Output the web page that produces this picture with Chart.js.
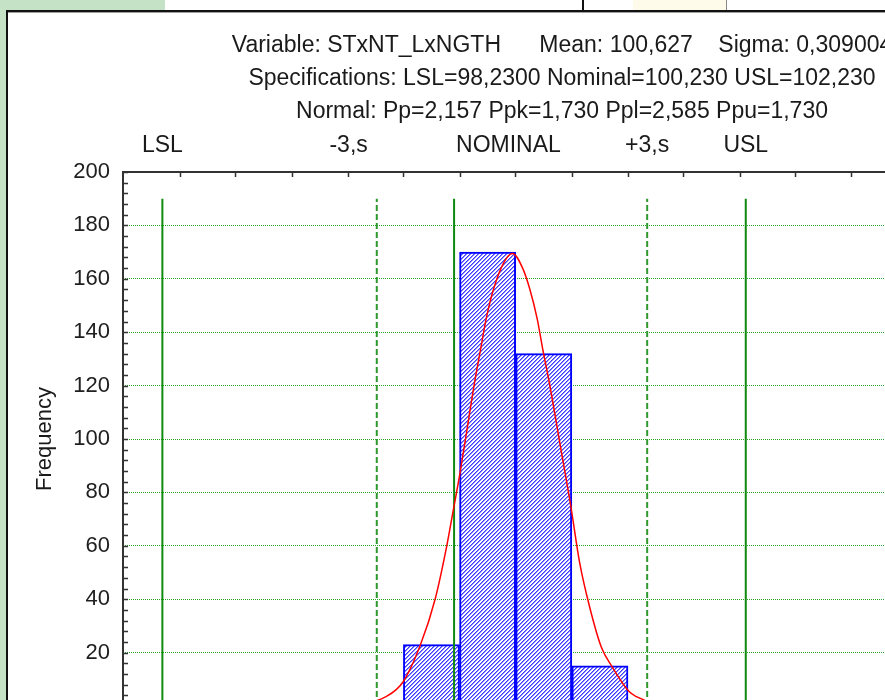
<!DOCTYPE html>
<html>
<head>
<meta charset="utf-8">
<title>Process capability histogram</title>
<script src="https://cdn.jsdelivr.net/npm/chart.js@4.4.1/dist/chart.umd.min.js"></script>
<style>
  html, body { margin: 0; padding: 0; overflow: hidden; background: #fff; width: 885px; height: 700px; }
  #page { position: relative; width: 885px; height: 700px; overflow: hidden; }
  .blk { position: absolute; }
  #chart { position: absolute; left: 0; top: 0; }
</style>
</head>
<body>
<div id="page">
  <div class="blk" style="left:0;top:0;width:165px;height:10px;background:#c6e2c6"></div>
  <div class="blk" style="left:0;top:0;width:6px;height:700px;background:#c6e2c6"></div>
  <div class="blk" style="left:633px;top:0;width:93px;height:10px;background:#fffbea"></div>
  <div class="blk" style="left:582px;top:0;width:2px;height:10px;background:#111"></div>
  <div class="blk" style="left:726px;top:0;width:1px;height:10px;background:#888"></div>
  <div class="blk" style="left:6px;top:10px;width:879px;height:2px;background:#111"></div>
  <div class="blk" style="left:8px;top:12px;width:877px;height:1px;background:#a0a0a0"></div>
  <div class="blk" style="left:6px;top:10px;width:2px;height:690px;background:#111"></div>
  <canvas id="chart" width="1010" height="760"></canvas>
</div>
<script>
// header text
const headerLines = [
  'Variable: STxNT_LxNGTH      Mean: 100,627    Sigma: 0,309004',
  'Specifications: LSL=98,2300 Nominal=100,230 USL=102,230',
  'Normal: Pp=2,157 Ppk=1,730 Ppl=2,585 Ppu=1,730'
];

// spec / sigma lines
const specNames = ['LSL', '-3,s', 'NOMINAL', '+3,s', 'USL'];
const specValues = [98.23, 99.70, 100.23, 101.554, 102.23];
const specDashed = [false, true, false, true, false];
const specTop = 190;

// histogram
const binCenters = [100.075, 100.46, 100.845, 101.23];
const counts = [23, 170, 132, 15];
const binEdges = [98.35, 98.73, 99.12, 99.50, 99.88, 100.27, 100.65, 101.04, 101.42, 101.80, 102.19, 102.57, 102.95, 103.34, 103.72];

// fitted normal curve
const curveX = [99.30, 99.45, 99.60, 99.76, 99.88, 100.00, 100.10, 100.18, 100.22, 100.27, 100.32, 100.37, 100.41, 100.45, 100.50, 100.57, 100.63, 100.70, 100.75, 100.80, 100.84, 100.88, 100.96, 101.03, 101.09, 101.16, 101.24, 101.31, 101.43, 101.48, 101.60, 101.75, 101.95];
const curveY = [0.1, 0.3, 0.8, 3.4, 9, 23, 40, 60, 72, 87, 104, 121, 133, 145, 156, 166, 169.5, 164, 156, 145, 133, 122, 97, 75, 54, 37, 22, 15, 5.4, 3.5, 1.1, 0.2, 0];

// axes
const xMin = 97.96, xMax = 103.98;
const yMin = 0, yMax = 200, yStep = 20, yMinorStep = 4;

// label placement (style only)
const labelAlign = ['center', 'right', 'left', 'center', 'center'];
const labelShift = [0, -9, 2, 0, 0];

const FONT = "'Liberation Sans', Arial, sans-serif";

function hatchPattern() {
  // 4px diagonal "/" hatch, blue on white
  const c = document.createElement('canvas');
  c.width = 4; c.height = 4;
  const g = c.getContext('2d');
  g.fillStyle = '#ffffff';
  g.fillRect(0, 0, 4, 4);
  for (let i = 0; i < 4; i++) {
    g.fillStyle = '#3c3cff';
    g.fillRect(i, 3 - i, 1, 1);
    g.fillStyle = '#8c8cff';
    g.fillRect(i, (4 - i) % 4, 1, 1);
  }
  return g.createPattern(c, 'repeat');
}

const framePlugin = {
  id: 'frame',
  afterDraw(chart) {
    const ctx = chart.ctx;
    const area = chart.chartArea;
    const xs = chart.scales.x, ys = chart.scales.y;
    ctx.save();

    // axis frame
    ctx.strokeStyle = '#333';
    ctx.lineWidth = 2;
    ctx.beginPath();
    ctx.moveTo(area.left, area.bottom);
    ctx.lineTo(area.left, area.top);
    ctx.lineTo(area.right, area.top);
    ctx.stroke();

    // inward ticks
    ctx.lineWidth = 1.5;
    ctx.beginPath();
    for (let v = yMin; v <= yMax; v += yMinorStep) {
      const y = Math.round(ys.getPixelForValue(v)) + 0.5;
      ctx.moveTo(area.left, y);
      ctx.lineTo(area.left + 5, y);
    }
    binEdges.forEach(e => {
      const x = Math.round(xs.getPixelForValue(e)) + 0.5;
      ctx.moveTo(x, area.top);
      ctx.lineTo(x, area.top + 5);
    });
    ctx.stroke();

    // header
    ctx.fillStyle = '#1a1a1a';
    ctx.font = '23px ' + FONT;
    ctx.textBaseline = 'middle';
    ctx.textAlign = 'center';
    const cx = (area.left + area.right) / 2;
    headerLines.forEach((t, i) => ctx.fillText(t, cx, 46 + i * 33));

    // spec labels
    specNames.forEach((n, i) => {
      ctx.textAlign = labelAlign[i];
      ctx.fillText(n, xs.getPixelForValue(specValues[i]) + labelShift[i], 146);
    });

    // y title
    ctx.save();
    ctx.translate(45, (area.top + area.bottom) / 2);
    ctx.rotate(-Math.PI / 2);
    ctx.textAlign = 'center';
    ctx.font = '22px ' + FONT;
    ctx.fillText('Frequency', 0, 0);
    ctx.restore();

    ctx.restore();
  }
};

const specSets = specValues.map((v, i) => ({
  type: 'line',
  data: [{ x: v, y: 0 }, { x: v, y: specTop }],
  borderColor: specDashed[i] ? '#2e9a2e' : '#0f8a0f',
  borderWidth: 2,
  borderDash: specDashed[i] ? [6, 3] : [],
  pointRadius: 0,
  order: 2
}));

new Chart(document.getElementById('chart'), {
  type: 'bar',
  data: {
    datasets: [
      {
        type: 'bar',
        data: binCenters.map((x, i) => ({ x: x, y: counts[i] })),
        backgroundColor: hatchPattern(),
        borderColor: '#0000ff',
        borderWidth: 2,
        borderSkipped: false,
        barPercentage: 1,
        categoryPercentage: 1,
        order: 3
      },
      ...specSets,
      {
        type: 'line',
        data: curveX.map((x, i) => ({ x: x, y: curveY[i] })),
        borderColor: '#ff0000',
        borderWidth: 1.5,
        pointRadius: 0,
        cubicInterpolationMode: 'monotone',
        order: 1
      }
    ]
  },
  options: {
    responsive: false,
    devicePixelRatio: 1,
    animation: false,
    layout: { padding: { left: 0, top: 172, right: 9, bottom: 0 } },
    plugins: { legend: { display: false }, tooltip: { enabled: false }, title: { display: false } },
    scales: {
      x: {
        type: 'linear',
        offset: false,
        min: xMin,
        max: xMax,
        ticks: { display: false, stepSize: 1 },
        grid: { display: false },
        border: { display: false },
        afterFit: s => { s.height = 54; }
      },
      y: {
        min: yMin,
        max: yMax,
        ticks: {
          stepSize: yStep,
          padding: 13,
          color: '#202020',
          font: { family: FONT, size: 22 },
          callback: v => (v === yMin ? '' : v)
        },
        grid: {
          drawTicks: false,
          lineWidth: 1,
          color: c => (c.tick && (c.tick.value === yMin || c.tick.value === yMax)) ? 'rgba(0,0,0,0)' : '#28aa28'
        },
        border: { display: false, dash: [1, 1] },
        afterFit: s => { s.width = 123; }
      }
    }
  },
  plugins: [framePlugin]
});
</script>
</body>
</html>
